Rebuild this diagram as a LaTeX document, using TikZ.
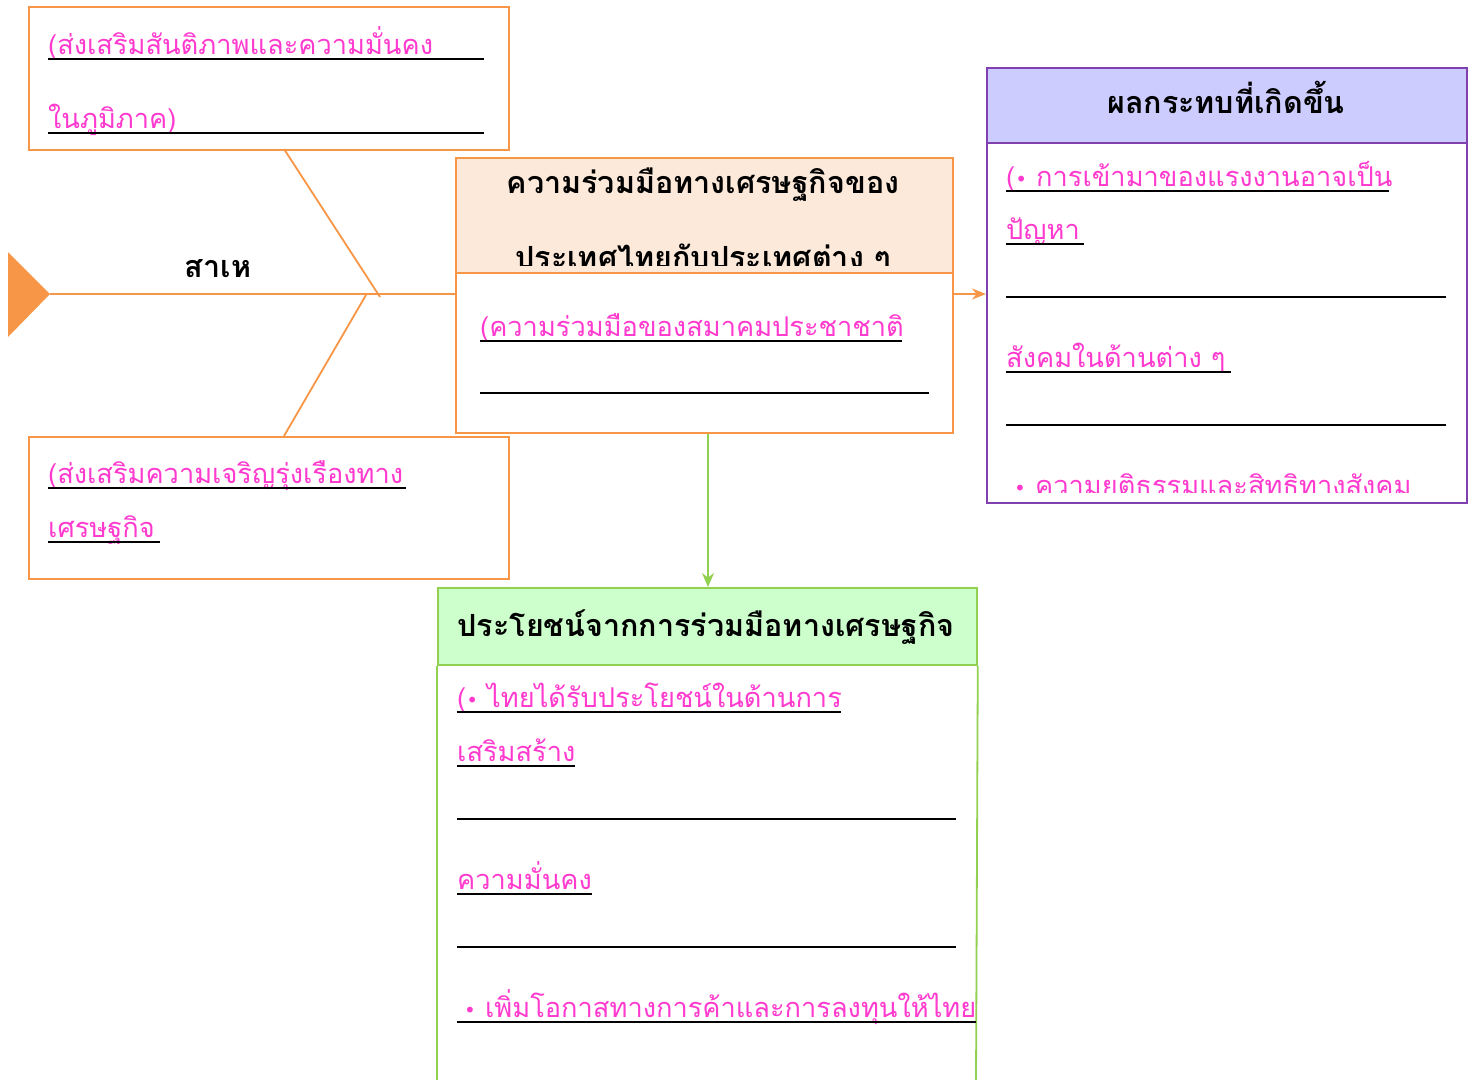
\documentclass[tikz,border=0pt]{standalone}
\usepackage{fontspec}
\newfontfamily\thai[Script=Thai]{Loma}
\newfontfamily\dv{DejaVu Sans}
\usetikzlibrary{arrows.meta}
\definecolor{orng}{HTML}{F79646}
\definecolor{pnk}{HTML}{FF3ACF}
\definecolor{purp}{HTML}{8040B0}
\definecolor{grn}{HTML}{92D050}
\definecolor{peach}{HTML}{FDE9D9}
\definecolor{lav}{HTML}{CCCCFF}
\definecolor{lgrn}{HTML}{CCFFCC}
\newcommand{\bul}{{\dv\fontsize{20}{24}\selectfont •}}
\begin{document}
\begin{tikzpicture}[x=1pt,y=-1pt,
  pt/.style={anchor=base west, inner sep=0pt, text=pnk, font=\thai\fontsize{27.2}{32}\selectfont},
  ht/.style={anchor=base, inner sep=0pt, text=black, font=\thai\bfseries\fontsize{30.5}{34}\selectfont},
  ul/.style={line width=2.6pt, black},
  obox/.style={draw=orng, line width=1.8pt, inner sep=0pt, anchor=north west},
  pbox/.style={draw=purp, line width=1.8pt, inner sep=0pt, anchor=north west},
  gbox/.style={draw=grn, line width=1.8pt, inner sep=0pt, anchor=north west},
  bone/.style={draw=orng, line width=1.8pt}]
\useasboundingbox (0,0) rectangle (1475,1079);
\fill[white] (0,0) rectangle (1475,1079);

% top-left box
\node[obox, minimum width=480pt, minimum height=143pt] (tl) at (28,6) {};
\node[pt] (t1a) at (48,54) {(ส่งเสริมสันติภาพและความมั่นคง};
\node[pt] (t1b) at (48,128) {ในภูมิภาค)};
\draw[ul] (48,59) -- (484,59);
\draw[ul] (48,133) -- (484,133);

% bottom-left box
\node[obox, minimum width=480pt, minimum height=142pt] (bl) at (28,436) {};
\node[pt] (b1a) at (48,483) {(ส่งเสริมความเจริญรุ่งเรืองทาง};
\node[pt] (b1b) at (48,537) {เศรษฐกิจ};
\draw[ul] (48,488) -- (406,488);
\draw[ul] (48,542) -- (160,542);

% fishbone
\fill[orng] (8,252) -- (50,294) -- (8,337) -- cycle;
\coordinate (tip) at (50,294);
\coordinate (up) at (284,149);
\coordinate (upj) at (380,297);
\coordinate (lo) at (284,436);
\coordinate (loj) at (366,295);
\node[ht] (cause) at (218,277) {สาเห};

% center box
\node[obox, fill=peach, minimum width=497pt, minimum height=115pt] (ch) at (455,157) {};
\node[obox, fill=white, minimum width=497pt, minimum height=160pt] (cb) at (455,272) {};
\node[ht] (c1) at (703,193) {ความร่วมมือทางเศรษฐกิจของ};
\begin{scope}
\clip (455,157) rectangle (952,265);
\node[ht] (c2) at (703,268) {ประเทศไทยกับประเทศต่าง ๆ};
\end{scope}
\node[pt] (c3) at (480,336) {(ความร่วมมือของสมาคมประชาชาติ};
\draw[ul] (480,341) -- (902,341);
\draw[ul] (480,393) -- (929,393);

\draw[bone] (tip) -- (cb.west |- tip);
\draw[bone] (up) -- (upj);
\draw[bone] (lo) -- (loj);

% right box
\node[pbox, fill=lav, minimum width=480pt, minimum height=75pt] (rh) at (986,67) {};
\node[pbox, fill=white, minimum width=480pt, minimum height=360pt] (rb) at (986,142) {};
\node[ht] (r0) at (1226,113) {ผลกระทบที่เกิดขึ้น};
\node[pt] (r1) at (1006,186) {(\bul{} การเข้ามาของแรงงานอาจเป็น};
\draw[ul] (1006,191) -- (1389,191);
\node[pt] (r2) at (1006,239) {ปัญหา};
\draw[ul] (1006,244) -- (1084,244);
\draw[ul] (1006,297) -- (1446,297);
\node[pt] (r3) at (1006,367) {สังคมในด้านต่าง ๆ};
\draw[ul] (1006,372) -- (1231,372);
\draw[ul] (1006,425) -- (1446,425);
\begin{scope}
\clip (986,142) rectangle (1466,492);
\node[pt] (r4) at (1014,495) {\bul{} ความยุติธรรมและสิทธิทางสังคม};
\end{scope}

\draw[draw=orng, line width=1.8pt, -{Stealth[length=14pt,width=11pt]}] (cb.east |- tip) -- (rb.west |- tip);

% bottom box
\node[gbox, fill=lgrn, minimum width=539pt, minimum height=77pt] (gh) at (437,587) {};
\draw[grn, line width=1.8pt] (gh.south west) -- (437,1082);
\draw[grn, line width=1.8pt] (gh.south east) -- (976,1082);
\node[ht] (g0) at (706,636) {ประโยชน์จากการร่วมมือทางเศรษฐกิจ};
\node[pt] (g1) at (457,707) {(\bul{} ไทยได้รับประโยชน์ในด้านการ};
\draw[ul] (457,712) -- (841,712);
\node[pt] (g2) at (457,761) {เสริมสร้าง};
\draw[ul] (457,766) -- (575,766);
\draw[ul] (457,819) -- (956,819);
\node[pt] (g3) at (457,889) {ความมั่นคง};
\draw[ul] (457,894) -- (592,894);
\draw[ul] (457,947) -- (956,947);
\begin{scope}
\clip (437,664) rectangle (975,1079);
\node[pt] (g4) at (464,1017) {\bul{} เพิ่มโอกาสทางการค้าและการลงทุนให้ไทย};
\end{scope}
\draw[ul] (457,1022) -- (976,1022);

\draw[grn, line width=1.8pt, -{Stealth[length=14pt,width=12pt]}] (cb.south -| 708,0) -- (gh.north -| 708,0);
\end{tikzpicture}
\end{document}
